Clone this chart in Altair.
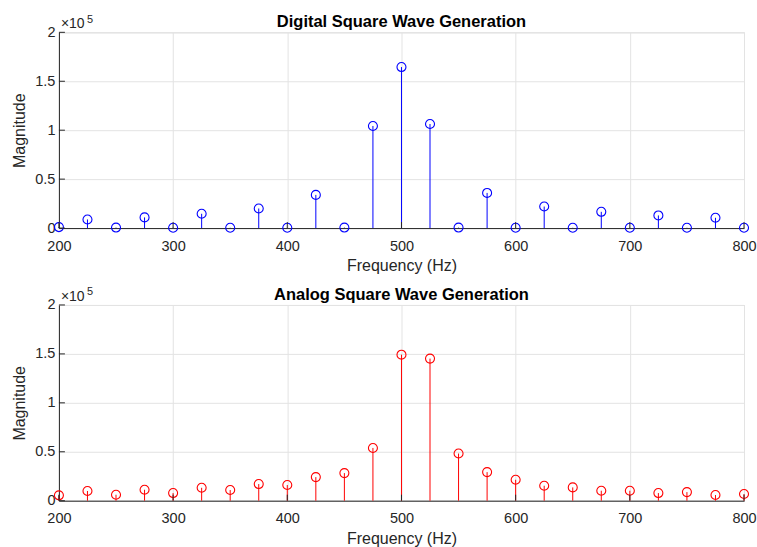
import altair as alt
import pandas as pd

# Frequency bins (Hz) shared by both spectra
freqs = [200, 225, 250, 275, 300, 325, 350, 375, 400, 425, 450, 475, 500,
         525, 550, 575, 600, 625, 650, 675, 700, 725, 750, 775, 800]

# FFT magnitudes of the digitally generated square wave
digital_mag = [1000, 8800, 500, 10900, 300, 14600, 300, 20000, 300, 33900, 500,
               104300, 164500, 106300, 500, 35900, 300, 22000, 300, 16600, 300,
               12900, 300, 10500, 300]

# FFT magnitudes of the analog square wave
analog_mag = [5500, 9900, 6100, 11200, 7800, 13200, 10900, 17000, 16000, 24100,
              28200, 53900, 149200, 145200, 48200, 29200, 21400, 15300, 13600,
              10200, 10200, 7800, 8800, 5800, 6800]

x_ticks = [200, 300, 400, 500, 600, 700, 800]
y_ticks = [0, 50000, 100000, 150000, 200000]

W, H = 686, 196
AXIS_COLOR = "#262626"
FONT = "Liberation Sans"


def label(text, x, y, size, weight="normal", color=AXIS_COLOR, align="left"):
    return alt.Chart(pd.DataFrame({"s": [text]})).mark_text(
        align=align, baseline="alphabetic", fontSize=size, font=FONT,
        fontWeight=weight, color=color
    ).encode(x=alt.value(x), y=alt.value(y), text="s:N")


def panel(mags, color, title):
    df = pd.DataFrame({"freq": freqs, "mag": mags})
    base = alt.Chart(df)

    x_enc = alt.X(
        "freq:Q",
        scale=alt.Scale(domain=[200, 800], nice=False, zero=False),
        axis=alt.Axis(values=x_ticks, title="Frequency (Hz)", ticks=False,
                      tickSize=0, labelPadding=11, titlePadding=5,
                      labelFlush=False),
    )
    y_enc = alt.Y(
        "mag:Q",
        scale=alt.Scale(domain=[0, 200000], nice=False),
        axis=alt.Axis(values=y_ticks, title="Magnitude", ticks=False,
                      tickSize=0, labelPadding=4, titlePadding=7,
                      labelExpr="datum.value / 100000", labelFlush=False),
    )

    stems = base.mark_rule(color=color, strokeWidth=1).encode(
        x=x_enc, y=y_enc, y2=alt.datum(0)
    )
    heads = base.mark_point(shape="circle", filled=False, color=color,
                            size=81, strokeWidth=1.1, opacity=1).encode(
        x="freq:Q", y="mag:Q"
    )

    # inward-pointing tick marks along the bottom and left axes
    xt = alt.Chart(pd.DataFrame({"t": x_ticks})).mark_rule(
        color=AXIS_COLOR, strokeWidth=1
    ).encode(x="t:Q", y=alt.value(H), y2=alt.value(H - 6))
    yt = alt.Chart(pd.DataFrame({"t": y_ticks})).mark_rule(
        color=AXIS_COLOR, strokeWidth=1
    ).encode(y="t:Q", x=alt.value(0), x2=alt.value(6))

    # panel title and the axis exponent "×10^5"
    ttl = label(title, W / 2, -5, 16.5, weight="bold", color="black",
                align="center")
    times10 = label("×10", 2, -4, 14)
    power = label("5", 28, -9.5, 11)

    return alt.layer(stems, heads, xt, yt, ttl, times10, power).properties(
        width=W, height=H
    )


chart = alt.vconcat(
    panel(digital_mag, "#0000ff", "Digital Square Wave Generation"),
    panel(analog_mag, "#ff0000", "Analog Square Wave Generation"),
    spacing=12,
).properties(
    padding={"left": 11, "top": 13, "right": 0, "bottom": 5}
).configure(
    background="white",
    font=FONT,
).configure_view(
    stroke="#d9d9d9", strokeWidth=1
).configure_axis(
    domainColor=AXIS_COLOR, domainWidth=1, gridColor="#e3e3e3", gridWidth=1,
    labelColor=AXIS_COLOR, labelFontSize=14.5, labelFont=FONT,
    titleColor=AXIS_COLOR, titleFontSize=16, titleFont=FONT,
    titleFontWeight="normal",
)

chart.save("out.html", embed_options={"renderer": "svg", "actions": False})
